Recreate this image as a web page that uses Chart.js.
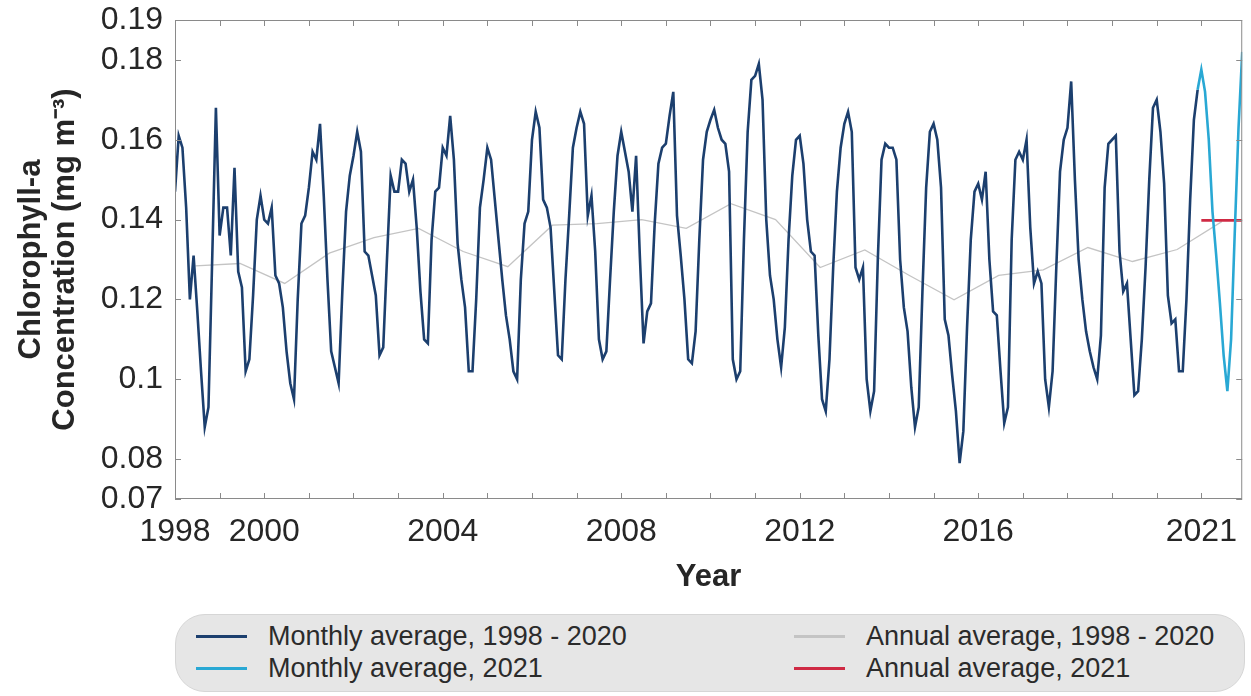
<!DOCTYPE html>
<html>
<head>
<meta charset="utf-8">
<script src="https://cdn.jsdelivr.net/npm/chart.js@4/dist/chart.umd.min.js"></script>
<style>
  body { margin: 0; background: #fff; width: 1251px; height: 696px; overflow: hidden; position: relative; font-family: "Liberation Sans", Arial, Helvetica, sans-serif; }
  #wrap { position: absolute; left: 0; top: 0; width: 1251px; height: 600px; }
  #legend {
    position: absolute; left: 175px; top: 614px; width: 1070px; height: 78px;
    box-sizing: border-box; background: #e6e6e6; border: 1px solid #d6d6d6; border-radius: 30px;
    padding: 5px 0 0 20px;
    display: grid; grid-template-columns: 598px auto; grid-template-rows: 32px 32px; grid-auto-flow: column;
  }
  .item { display: flex; align-items: center; font-size: 27px; color: #2b2b2b; white-space: nowrap; }
  .swatch { display: inline-block; width: 51px; height: 3px; margin-right: 21px; }
</style>
</head>
<body>
<div id="wrap"><canvas id="chlChart" width="1251" height="600"></canvas></div>
<div id="legend"></div>
<script>
// Chlorophyll-a monthly averages, Jan 1998 - Dec 2020 (one row per year)
const firstYear = 1998;
const monthlyValues = [
  0.147, 0.161, 0.158, 0.143, 0.120, 0.131, 0.117, 0.102, 0.088, 0.093, 0.130, 0.168, // 1998
  0.136, 0.143, 0.143, 0.131, 0.153, 0.127, 0.123, 0.102, 0.105, 0.121, 0.140, 0.146, // 1999
  0.140, 0.139, 0.143, 0.126, 0.124, 0.118, 0.107, 0.099, 0.095, 0.120, 0.139, 0.141, // 2000
  0.148, 0.157, 0.155, 0.164, 0.146, 0.125, 0.107, 0.103, 0.099, 0.122, 0.142, 0.151, // 2001
  0.156, 0.162, 0.157, 0.132, 0.131, 0.126, 0.121, 0.106, 0.108, 0.130, 0.151, 0.147, // 2002
  0.147, 0.155, 0.154, 0.147, 0.150, 0.138, 0.122, 0.110, 0.109, 0.135, 0.147, 0.148, // 2003
  0.158, 0.156, 0.166, 0.155, 0.134, 0.125, 0.118, 0.102, 0.102, 0.120, 0.143, 0.150, // 2004
  0.158, 0.155, 0.145, 0.135, 0.125, 0.116, 0.110, 0.102, 0.100, 0.125, 0.139, 0.142, // 2005
  0.160, 0.167, 0.163, 0.145, 0.143, 0.138, 0.122, 0.106, 0.105, 0.125, 0.141, 0.158, // 2006
  0.163, 0.167, 0.164, 0.141, 0.146, 0.132, 0.110, 0.105, 0.107, 0.125, 0.142, 0.156, // 2007
  0.162, 0.157, 0.152, 0.142, 0.156, 0.131, 0.109, 0.117, 0.119, 0.139, 0.154, 0.158, // 2008
  0.159, 0.166, 0.172, 0.141, 0.131, 0.120, 0.105, 0.104, 0.112, 0.135, 0.155, 0.162, // 2009
  0.165, 0.1675, 0.163, 0.160, 0.159, 0.152, 0.105, 0.100, 0.102, 0.135, 0.162, 0.175, // 2010
  0.176, 0.179, 0.170, 0.140, 0.126, 0.120, 0.110, 0.103, 0.113, 0.135, 0.151, 0.160, // 2011
  0.161, 0.154, 0.140, 0.132, 0.131, 0.111, 0.095, 0.092, 0.105, 0.128, 0.147, 0.158, // 2012
  0.164, 0.167, 0.162, 0.128, 0.125, 0.128, 0.100, 0.092, 0.097, 0.130, 0.155, 0.159, // 2013
  0.158, 0.158, 0.155, 0.130, 0.118, 0.112, 0.098, 0.088, 0.093, 0.122, 0.148, 0.162, // 2014
  0.164, 0.160, 0.148, 0.115, 0.111, 0.101, 0.092, 0.079, 0.087, 0.113, 0.135, 0.147, // 2015
  0.149, 0.145, 0.152, 0.130, 0.117, 0.116, 0.102, 0.089, 0.093, 0.135, 0.155, 0.157, // 2016
  0.155, 0.160, 0.138, 0.124, 0.127, 0.124, 0.100, 0.093, 0.102, 0.128, 0.152, 0.160, // 2017
  0.163, 0.1746, 0.150, 0.130, 0.120, 0.112, 0.107, 0.103, 0.100, 0.111, 0.148, 0.159, // 2018
  0.160, 0.161, 0.132, 0.122, 0.124, 0.110, 0.096, 0.097, 0.110, 0.128, 0.150, 0.168, // 2019
  0.170, 0.162, 0.149, 0.121, 0.114, 0.115, 0.102, 0.102, 0.120, 0.145, 0.165, 0.1725  // 2020
];
// Monthly averages, Jan - Dec 2021
const monthly2021 = [0.1776, 0.172, 0.160, 0.142, 0.131, 0.119, 0.106, 0.097, 0.110, 0.137, 0.163, 0.182];
// Annual averages, 1998 - 2021 (plotted at mid-year)
const annualValues = [
  0.1284, 0.129, 0.124, 0.1316, 0.1355, 0.1378, 0.132, 0.1282, 0.1386, 0.139, 0.140, 0.1378,
  0.144, 0.140, 0.128, 0.1324, 0.126, 0.1199, 0.126, 0.1274, 0.133, 0.1295, 0.1325, 0.1395
];
const annual2021 = 0.1398;

const xTickYears = [1998, 2000, 2004, 2008, 2012, 2016, 2021];
const yTickValues = [0.07, 0.08, 0.1, 0.12, 0.14, 0.16, 0.18, 0.19];

const textColor = "#262626";
Chart.defaults.font.family = '"Liberation Sans", Arial, Helvetica, sans-serif';
Chart.defaults.color = textColor;

// Build point lists
const darkPoints = monthlyValues.map((v, i) => ({ x: firstYear + i / 12, y: v }));
const lastDark = darkPoints[darkPoints.length - 1];
const cyanPoints = [lastDark].concat(monthly2021.map((v, i) => ({ x: 2021 + i / 12, y: v })));
const greyPoints = annualValues.map((v, i) => ({ x: firstYear + i + 5.5 / 12, y: v }));
const redPoints = [{ x: 2021, y: annual2021 }, { x: 2021 + 11 / 12, y: annual2021 }];

// Plot frame with inward tick marks (MATLAB style)
const frameTicks = {
  id: "frameTicks",
  afterDatasetsDraw(chart) {
    const { ctx, chartArea: a, scales } = chart;
    ctx.save();
    ctx.strokeStyle = "#8a8a8a";
    ctx.lineWidth = 1;
    ctx.strokeRect(a.left + 0.5, a.top + 0.5, a.right - a.left - 1, a.bottom - a.top - 1);
    ctx.beginPath();
    scales.x.ticks.forEach((t) => {
      const px = Math.round(scales.x.getPixelForValue(t.value)) + 0.5;
      ctx.moveTo(px, a.bottom); ctx.lineTo(px, a.bottom - 6);
      ctx.moveTo(px, a.top); ctx.lineTo(px, a.top + 6);
    });
    scales.y.ticks.forEach((t) => {
      const py = Math.round(scales.y.getPixelForValue(t.value)) + 0.5;
      ctx.moveTo(a.left, py); ctx.lineTo(a.left + 6, py);
      ctx.moveTo(a.right, py); ctx.lineTo(a.right - 6, py);
    });
    ctx.stroke();
    ctx.restore();
  }
};

const datasets = [
  { label: "Monthly average, 1998 - 2020", data: darkPoints, borderColor: "#1c3f6e", borderWidth: 2.6, order: 1 },
  { label: "Monthly average, 2021", data: cyanPoints, borderColor: "#29a8d4", borderWidth: 2.6, order: 2 },
  { label: "Annual average, 1998 - 2020", data: greyPoints, borderColor: "#c4c4c4", borderWidth: 1.3, order: 4 },
  { label: "Annual average, 2021", data: redPoints, borderColor: "#cf2a44", borderWidth: 2.6, order: 3 }
];
datasets.forEach((d) => { d.pointRadius = 0; d.tension = 0; d.fill = false; });

const chart = new Chart(document.getElementById("chlChart").getContext("2d"), {
  type: "line",
  data: { datasets },
  options: {
    responsive: false,
    animation: false,
    layout: { padding: { top: 20, right: 2, left: 0, bottom: 0 } },
    plugins: { legend: { display: false }, tooltip: { enabled: false } },
    scales: {
      x: {
        type: "linear",
        min: firstYear,
        max: 2021 + 11 / 12,
        grid: { display: false, drawTicks: false },
        border: { display: false },
        afterBuildTicks: (scale) => {
          const ticks = [];
          for (let yr = firstYear; yr <= 2021; yr++) ticks.push({ value: yr });
          scale.ticks = ticks;
        },
        afterFit: (scale) => { scale.height = 101; },
        ticks: {
          autoSkip: false,
          maxRotation: 0,
          padding: 14,
          font: { size: 32 },
          color: textColor,
          callback: (v) => (xTickYears.includes(v) ? String(v) : "")
        },
        title: { display: true, text: "Year", font: { size: 31, weight: "bold", lineHeight: 1.1 }, padding: { top: 0, bottom: 5 }, color: textColor }
      },
      y: {
        min: 0.07,
        max: 0.19,
        grid: { display: false, drawTicks: false },
        border: { display: false },
        afterBuildTicks: (scale) => { scale.ticks = yTickValues.map((v) => ({ value: v })); },
        afterFit: (scale) => {
          scale.width = 175;
          scale.paddingTop = 0;
          scale.paddingBottom = 0;
        },
        ticks: {
          autoSkip: false,
          padding: 12,
          font: { size: 32 },
          color: textColor,
          callback: (v) => String(v)
        },
        title: {
          display: true,
          text: ["Chlorophyll-a", "Concentration (mg m\u207B\u00B3)"],
          font: { size: 31, weight: "bold", lineHeight: 1.08 },
          padding: { top: 15, bottom: 0 },
          color: textColor
        }
      }
    }
  },
  plugins: [frameTicks]
});

// HTML legend from the datasets
const legendEl = document.getElementById("legend");
datasets.forEach((d) => {
  const item = document.createElement("div");
  item.className = "item";
  item.innerHTML = `<span class="swatch" style="background:${d.borderColor}"></span><span>${d.label}</span>`;
  legendEl.appendChild(item);
});
</script>
</body>
</html>
